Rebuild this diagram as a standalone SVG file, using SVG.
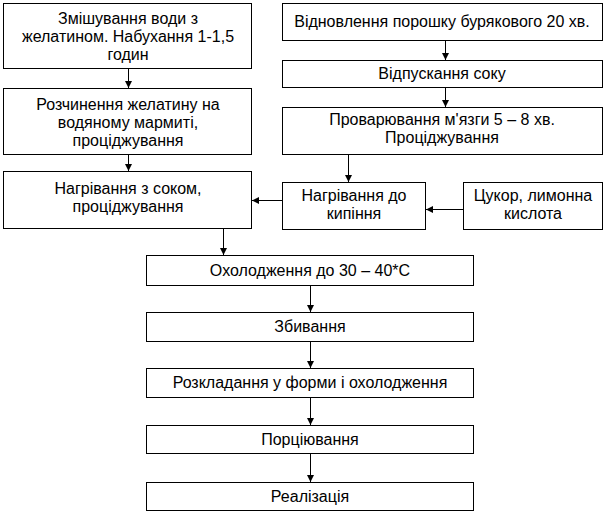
<svg xmlns="http://www.w3.org/2000/svg" width="611" height="513" viewBox="0 0 611 513">
<style>
.box{fill:#fff;stroke:#000;stroke-width:1}
.t{font-family:"Liberation Sans",Arial,sans-serif;font-size:16px;fill:#000;text-anchor:middle}
.c{stroke:#000;stroke-width:1;fill:none;marker-end:url(#ah)}
</style>
<defs>
<marker id="ah" markerUnits="userSpaceOnUse" markerWidth="8" markerHeight="8" refX="7" refY="3.5" orient="auto">
<path d="M0,0 L7,3.5 L0,7 z" fill="#000"/>
</marker>
</defs>
<rect width="611" height="513" fill="#fff"/>
<g id="n1"><rect class="box" x="3.5" y="3.5" width="248" height="65"/>
<text class="t" x="128" y="24">Змішування води з</text>
<text class="t" x="128" y="42">желатином. Набухання 1-1,5</text>
<text class="t" x="128" y="60">годин</text></g>
<g id="n2"><rect class="box" x="3.5" y="88.5" width="248" height="66"/>
<text class="t" x="128" y="110">Розчинення желатину на</text>
<text class="t" x="128" y="128">водяному мармиті,</text>
<text class="t" x="128" y="146">проціджування</text></g>
<g id="n3"><rect class="box" x="3.5" y="171.5" width="248" height="57"/>
<text class="t" x="128" y="194">Нагрівання з соком,</text>
<text class="t" x="128" y="212">проціджування</text></g>
<g id="r1"><rect class="box" x="282.5" y="3.5" width="320" height="37"/>
<text class="t" x="442" y="27">Відновлення порошку бурякового 20 хв.</text></g>
<g id="r2"><rect class="box" x="282.5" y="60.5" width="320" height="27"/>
<text class="t" x="442" y="79">Відпускання соку</text></g>
<g id="r3"><rect class="box" x="282.5" y="107.5" width="320" height="47"/>
<text class="t" x="442" y="125">Проварювання м'язги 5 – 8 хв.</text>
<text class="t" x="442" y="143">Проціджування</text></g>
<g id="r4"><rect class="box" x="282.5" y="182.5" width="143" height="47"/>
<text class="t" x="354" y="201">Нагрівання до</text>
<text class="t" x="354" y="219">кипіння</text></g>
<g id="r5"><rect class="box" x="463.5" y="182.5" width="139" height="47"/>
<text class="t" x="533" y="201">Цукор, лимонна</text>
<text class="t" x="533" y="219">кислота</text></g>
<g id="b1"><rect class="box" x="146.5" y="255.5" width="327" height="30"/>
<text class="t" x="310" y="276">Охолодження до 30 – 40*С</text></g>
<g id="b2"><rect class="box" x="146.5" y="312.5" width="327" height="29"/>
<text class="t" x="310" y="332">Збивання</text></g>
<g id="b3"><rect class="box" x="146.5" y="368.5" width="327" height="29"/>
<text class="t" x="310" y="388">Розкладання у форми і охолодження</text></g>
<g id="b4"><rect class="box" x="146.5" y="425.5" width="327" height="28"/>
<text class="t" x="310" y="445">Порціювання</text></g>
<g id="b5"><rect class="box" x="146.5" y="482.5" width="327" height="28"/>
<text class="t" x="310" y="502">Реалізація</text></g>
<g id="connectors">
<line class="c" x1="128.5" y1="69" x2="128.5" y2="88"/>
<line class="c" x1="128.5" y1="155" x2="128.5" y2="171"/>
<line class="c" x1="445.5" y1="41" x2="445.5" y2="60"/>
<line class="c" x1="445.5" y1="88" x2="445.5" y2="107"/>
<line class="c" x1="348.5" y1="155" x2="348.5" y2="182"/>
<line class="c" x1="463" y1="209.5" x2="426" y2="209.5"/>
<line class="c" x1="282" y1="200.5" x2="252" y2="200.5"/>
<line class="c" x1="223.5" y1="229" x2="223.5" y2="255"/>
<line class="c" x1="310.5" y1="286" x2="310.5" y2="312"/>
<line class="c" x1="310.5" y1="342" x2="310.5" y2="368"/>
<line class="c" x1="310.5" y1="398" x2="310.5" y2="425"/>
<line class="c" x1="310.5" y1="454" x2="310.5" y2="482"/>
</g>
</svg>
